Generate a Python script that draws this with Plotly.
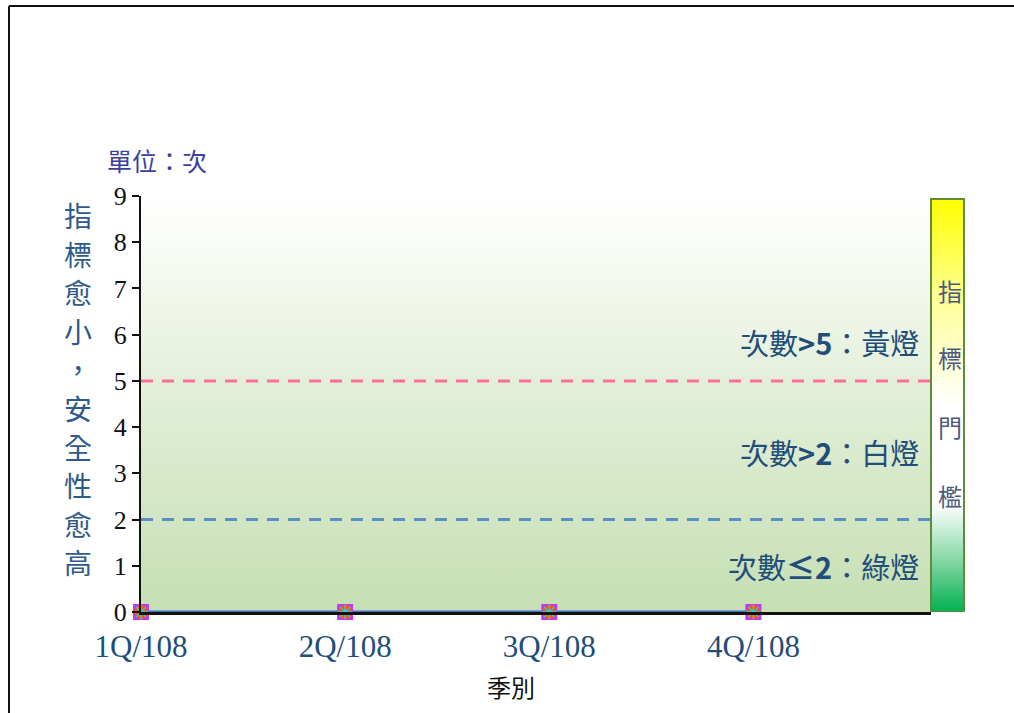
import plotly.graph_objects as go

# Quarterly counts
quarters = ["1Q/108", "2Q/108", "3Q/108", "4Q/108"]
counts = [0, 0, 0, 0]

# Threshold levels and their labels
yellow_level = 5
green_level = 2
level_labels = ["次數<b>&gt;5</b>：黃燈", "次數<b>&gt;2</b>：白燈", "次數<b>≤2</b>：綠燈"]
level_label_y = [5.85, 3.46, 1.0]

y_ticks = list(range(0, 10))
y_title_chars = list("指標愈小，安全性愈高")
bar_chars = list("指標門檻")

# Page geometry (pixels)
W, H = 1014, 713
L, R, T, B = 141, 46, 196, 101
plot_right_px = 931
bar_left_px, bar_right_px = 931, 964
pw = W - L - R
ph = H - T - B
split = (plot_right_px - L) / pw

x_max = 3.87
y_max = 9

def px_x(p):
    return (p - L) / pw

def px_y(p):
    return (H - B - p) / ph

# bar axis: pixel range of the x2 domain mapped onto [b0, b1]
dom2_left = plot_right_px - 4
dom2_right = W - R
b0 = (dom2_left - bar_left_px) / (bar_right_px - bar_left_px)
b1 = (dom2_right - bar_left_px) / (bar_right_px - bar_left_px)
bar_top = (H - B - 199) / ph

idx = list(range(len(quarters)))
fig = go.Figure()

# gradient plot background
fig.add_trace(go.Scatter(
    x=[0, x_max, x_max, 0, 0], y=[0, 0, y_max, y_max, 0],
    mode="lines", line=dict(width=0), fill="toself",
    fillgradient=dict(type="vertical", start=0, stop=y_max,
                      colorscale=[[0, "#c5dfb3"], [0.55, "#e4efda"], [0.92, "#fbfdf9"], [1, "#ffffff"]]),
    hoverinfo="skip", showlegend=False,
))

# threshold lines
fig.add_trace(go.Scatter(
    x=[0, x_max], y=[yellow_level, yellow_level], mode="lines",
    line=dict(color="#ff6f9a", width=3, dash="12px,9px"),
    hoverinfo="skip", showlegend=False,
))
fig.add_trace(go.Scatter(
    x=[0, x_max], y=[green_level, green_level], mode="lines",
    line=dict(color="#5b8ec4", width=3, dash="12px,9px"),
    hoverinfo="skip", showlegend=False,
))

# data series
fig.add_trace(go.Scatter(
    x=idx, y=counts, mode="lines+markers",
    line=dict(color="#3f6fc6", width=3),
    marker=dict(symbol="square", size=16, color="#c637f0", line=dict(width=0)),
    cliponaxis=False, showlegend=False, text=quarters,
    hovertemplate="%{text}: %{y}<extra></extra>",
))
fig.add_trace(go.Scatter(
    x=idx, y=counts, mode="markers",
    marker=dict(symbol="circle", size=14, color="#f25a0c", line=dict(width=0)),
    cliponaxis=False, showlegend=False, hoverinfo="skip",
))
fig.add_trace(go.Scatter(
    x=idx, y=counts, mode="markers",
    marker=dict(symbol="asterisk-open", size=12, line=dict(color="#7a3410", width=1.3)),
    cliponaxis=False, showlegend=False, hoverinfo="skip",
))

# threshold indicator bar
fig.add_trace(go.Scatter(
    x=[0, 1, 1, 0, 0], y=[0, 0, bar_top, bar_top, 0],
    xaxis="x2", yaxis="y2", mode="lines",
    line=dict(color="#5e8c3a", width=2), fill="toself",
    fillgradient=dict(type="vertical", start=0, stop=bar_top,
                      colorscale=[[0, "#00b050"], [0.12, "#80d6a2"], [0.26, "#ffffff"],
                                  [0.5, "#ffffff"], [0.75, "#ffff9a"], [1, "#ffff00"]]),
    cliponaxis=False, hoverinfo="skip", showlegend=False,
))

annotations = []
cjk = "Noto Sans CJK TC"

for i, ch in enumerate(y_title_chars):
    annotations.append(dict(
        xref="paper", yref="paper", x=px_x(78), y=px_y(215 + i * 38.6),
        text=ch, showarrow=False, xanchor="center", yanchor="middle",
        font=dict(family=cjk, size=28, color="#2e5b8b"),
    ))

for ch, py in zip(bar_chars, [290, 357, 426, 495]):
    annotations.append(dict(
        xref="paper", yref="paper", x=px_x(950), y=px_y(py),
        text=ch, showarrow=False, xanchor="center", yanchor="middle",
        font=dict(family=cjk, size=24, color="#4d5880"),
    ))

for txt, yv in zip(level_labels, level_label_y):
    annotations.append(dict(
        xref="paper", yref="y", x=px_x(921), y=yv,
        text=txt, showarrow=False, xanchor="right", yanchor="middle",
        font=dict(family=cjk, size=29, color="#1f4e79"),
    ))

annotations.append(dict(
    xref="paper", yref="paper", x=px_x(105), y=px_y(160),
    text="單位：次", showarrow=False, xanchor="left", yanchor="middle",
    font=dict(family=cjk, size=25, color="#3c3f99"),
))
annotations.append(dict(
    xref="paper", yref="paper", x=px_x(511), y=px_y(686),
    text="季別", showarrow=False, xanchor="center", yanchor="middle",
    font=dict(family=cjk, size=24, color="#111111"),
))

# outer frame
shapes = [
    dict(type="line", xref="paper", yref="paper",
         x0=px_x(9), y0=px_y(6), x1=px_x(W + 2), y1=px_y(6),
         line=dict(color="#111111", width=2)),
    dict(type="line", xref="paper", yref="paper",
         x0=px_x(9), y0=px_y(6), x1=px_x(9), y1=px_y(H + 2),
         line=dict(color="#111111", width=2)),
]

fig.update_layout(
    width=W, height=H,
    margin=dict(l=L, r=R, t=T, b=B),
    paper_bgcolor="white", plot_bgcolor="rgba(0,0,0,0)",
    showlegend=False,
    xaxis=dict(
        domain=[0, split], range=[0, x_max],
        tickvals=idx, ticktext=quarters, ticks="",
        showgrid=False, zeroline=False,
        showline=True, linecolor="#111111", linewidth=3,
        ticklabelstandoff=5,
        tickfont=dict(family="Liberation Serif", size=31, color="#1f4e79"),
    ),
    yaxis=dict(
        range=[0, y_max], tickvals=y_ticks, ticks="outside", ticklen=7,
        tickwidth=2, tickcolor="#111111",
        showgrid=False, zeroline=False,
        showline=True, linecolor="#111111", linewidth=2,
        tickfont=dict(family="Liberation Serif", size=26, color="#111111"),
    ),
    xaxis2=dict(domain=[px_x(dom2_left), 1], range=[b0, b1], visible=False, anchor="y2"),
    yaxis2=dict(domain=[0, 1], range=[0, 1], visible=False, anchor="x2"),
    annotations=annotations,
    shapes=shapes,
)

fig.write_html("out.html")
